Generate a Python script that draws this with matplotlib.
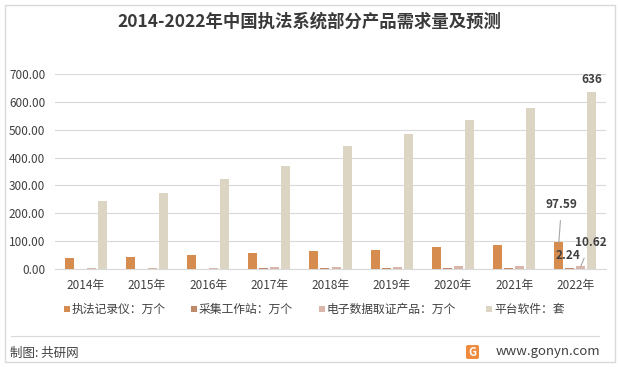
import matplotlib
matplotlib.use("Agg")
import matplotlib.pyplot as plt
from matplotlib.patches import Rectangle, FancyBboxPatch
from matplotlib.lines import Line2D
import numpy as np

plt.rcParams['font.family'] = ['Noto Sans CJK SC', 'DejaVu Sans']

years = ["2014年", "2015年", "2016年", "2017年", "2018年", "2019年", "2020年", "2021年", "2022年"]
recorder = [39.5, 43, 50, 57, 64, 68, 79, 86, 97.59]
workstation = [1.5, 1.6, 1.7, 1.8, 1.9, 2.0, 2.1, 2.2, 2.24]
evidence = [3.5, 4.0, 4.5, 7.5, 8.0, 8.5, 9.0, 9.8, 10.62]
platform = [244, 273, 323, 370, 441, 485, 535, 578, 636]
series_names = ["执法记录仪：万个", "采集工作站：万个", "电子数据取证产品：万个", "平台软件：套"]
colors = ["#D68C4E", "#C08A69", "#D9B5AA", "#DDD5C3"]
yticks = [0, 100, 200, 300, 400, 500, 600, 700]

W, H = 618, 367
fig = plt.figure(figsize=(W/100, H/100), dpi=100)
fig.patch.set_facecolor("white")

# outer border
fig.add_artist(Rectangle((5/W, 5/H), 610/W, 357/H, transform=fig.transFigure,
                         fill=False, edgecolor="#D9D9D9", linewidth=1))

ax = fig.add_axes([55/W, (H-269)/H, 551/W, 195/H])
x = np.arange(len(years))
offs = [-0.27, -0.09, 0.09, 0.27]
bw = 0.147
for s, (vals, c) in enumerate(zip([recorder, workstation, evidence, platform], colors)):
    ax.bar(x + offs[s], vals, width=bw, color=c, zorder=3)

ax.set_xlim(-0.5, len(years) - 0.5)
ax.set_ylim(0, 700)
ax.set_yticks(yticks)
ax.set_yticklabels([f"{v:.2f}" for v in yticks], fontsize=8.5, color="#404040")
ax.set_xticks(x)
ax.set_xticklabels(years, fontsize=8.5, color="#404040")
ax.tick_params(axis="both", length=0)
ax.tick_params(axis="y", pad=7)
ax.tick_params(axis="x", pad=7)
ax.grid(axis="y", color="#D9D9D9", linewidth=0.8, zorder=0)
for sp in ["top", "right", "left"]:
    ax.spines[sp].set_visible(False)
ax.spines["bottom"].set_color("#D9D9D9")
ax.set_facecolor("none")

# data labels
i = len(years) - 1
lab_kw = dict(fontsize=8.5, color="#404040", fontweight="bold", ha="center", va="center")
ax.annotate(f"{platform[i]:g}", xy=(x[i] + offs[3], platform[i]), xytext=(0, 9),
            textcoords="offset points", **lab_kw)
ax.annotate(f"{recorder[i]:.2f}", xy=(x[i] + offs[0], recorder[i]), xytext=(2, 27),
            textcoords="offset points",
            arrowprops=dict(arrowstyle="-", color="#A6A6A6", lw=0.8, shrinkA=5, shrinkB=0),
            **lab_kw)
ax.annotate(f"{workstation[i]:.2f}", xy=(x[i] + offs[1], workstation[i]), xytext=(-1, 9),
            textcoords="offset points", **lab_kw)
ax.annotate(f"{evidence[i]:.2f}", xy=(x[i] + offs[2], evidence[i]), xytext=(7, 17),
            textcoords="offset points",
            arrowprops=dict(arrowstyle="-", color="#A6A6A6", lw=0.8, shrinkA=5, shrinkB=0),
            **lab_kw)

# title
fig.text(0.5, (H-22)/H, "2014-2022年中国执法系统部分产品需求量及预测", ha="center", va="center",
         fontsize=12.5, fontweight="bold", color="#3A3A3A")

# legend (manual)
leg_x = [64, 191, 319, 486]
ly = (H-309)/H
for lx, name, c in zip(leg_x, series_names, colors):
    fig.add_artist(Rectangle((lx/W, ly - 3/H), 6/W, 6/H, transform=fig.transFigure,
                             facecolor=c, edgecolor="none"))
    fig.text((lx+8)/W, ly, name, ha="left", va="center", fontsize=8.5, color="#404040")

# separator
fig.add_artist(Line2D([11/W, 599/W], [(H-336)/H]*2, transform=fig.transFigure,
                      color="#D9D9D9", linewidth=0.8))

# footer
fig.text(10/W, (H-353)/H, "制图: 共研网", ha="left", va="center", fontsize=9, color="#404040")
fig.text(600/W, (H-352)/H, "www.gonyn.com", ha="right", va="center", fontsize=9.5, color="#404040")
fig.add_artist(FancyBboxPatch((466/W, (H-359)/H), 13/W, 14/H, transform=fig.transFigure,
                              boxstyle="round,pad=0,rounding_size=0.004",
                              facecolor="#F08A3C", edgecolor="none"))
fig.text(472.5/W, (H-352)/H, "G", ha="center", va="center", fontsize=8, color="white",
         fontweight="bold")

fig.savefig("out.png", dpi=100, facecolor="white")
